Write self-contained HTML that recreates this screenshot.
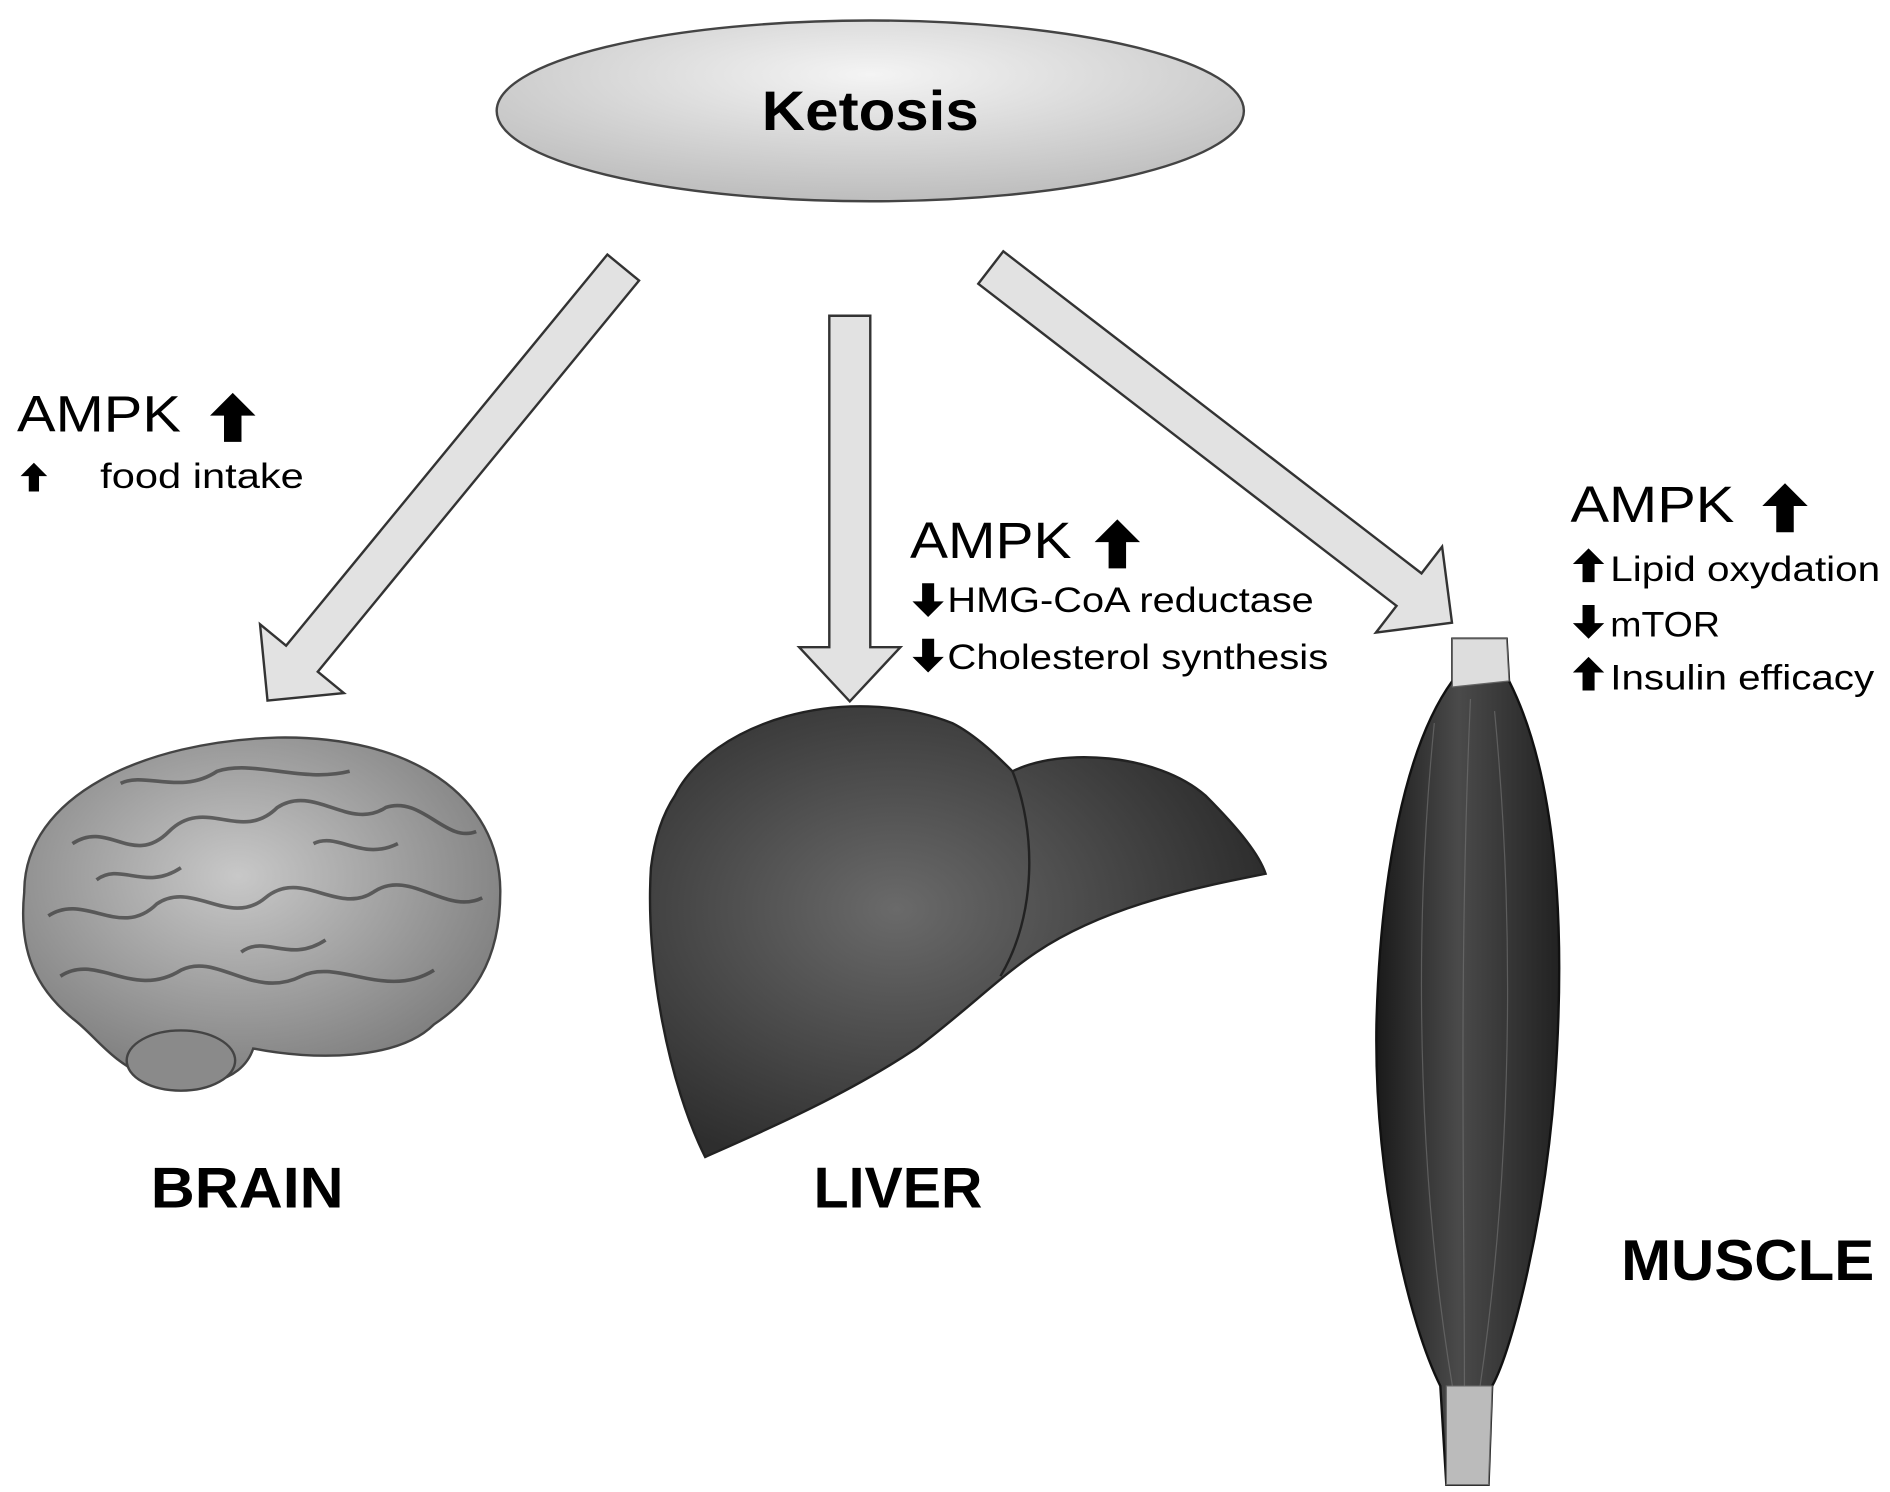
<!DOCTYPE html>
<html><head><meta charset="utf-8"><style>
html,body{margin:0;padding:0;background:#fff;}
svg{display:block;}
text{font-family:"Liberation Sans",sans-serif;fill:#000;}
</style></head><body>
<svg width="1890" height="1492" viewBox="0 0 1568 1238" xmlns="http://www.w3.org/2000/svg">
<defs>
<radialGradient id="eg" cx="50%" cy="30%" r="70%">
<stop offset="0" stop-color="#f4f4f4"/><stop offset="1" stop-color="#bdbdbd"/></radialGradient>
<radialGradient id="lg" cx="40%" cy="45%" r="60%">
<stop offset="0" stop-color="#6a6a6a"/><stop offset="1" stop-color="#2e2e2e"/></radialGradient>
<linearGradient id="mg" x1="0" x2="1">
<stop offset="0" stop-color="#1a1a1a"/><stop offset="0.45" stop-color="#4a4a4a"/><stop offset="1" stop-color="#222"/></linearGradient>
<radialGradient id="bg" cx="45%" cy="40%" r="65%">
<stop offset="0" stop-color="#c8c8c8"/><stop offset="1" stop-color="#7a7a7a"/></radialGradient>
<polygon id="ua" points="0,0 13,13 5,13 5,28 -5,28 -5,13 -13,13" fill="#000"/>
</defs>
<ellipse cx="722" cy="92" rx="310" ry="75" fill="url(#eg)" stroke="#444" stroke-width="2"/>
<text x="632" y="108" font-size="46" font-weight="bold" textLength="180" lengthAdjust="spacingAndGlyphs">Ketosis</text>

<g fill="#e2e2e2" stroke="#333" stroke-width="2">
<polygon transform="translate(517,222) rotate(39.4)" points="-17,0 17,0 17,420 45,420 0,465 -45,420 -17,420"/>
<polygon transform="translate(705,262)" points="-17,0 17,0 17,275 42,275 0,320 -42,275 -17,275"/>
<polygon transform="translate(822,222) rotate(-52.4)" points="-17,0 17,0 17,438 45,438 0,483 -45,438 -17,438"/>
</g>

<text x="14" y="358" font-size="42" textLength="136" lengthAdjust="spacingAndGlyphs">AMPK</text>
<use href="#ua" transform="translate(193,326) scale(1.45)"/>
<use href="#ua" transform="translate(28,384) scale(0.85)"/>
<text x="83" y="405" font-size="29" textLength="169" lengthAdjust="spacingAndGlyphs">food intake</text>

<text x="755" y="463" font-size="42" textLength="134" lengthAdjust="spacingAndGlyphs">AMPK</text>
<use href="#ua" transform="translate(927,431) scale(1.45)"/>
<use href="#ua" transform="translate(770,512) scale(1,-1)"/>
<text x="786" y="508" font-size="29" textLength="304" lengthAdjust="spacingAndGlyphs">HMG-CoA reductase</text>
<use href="#ua" transform="translate(770,558) scale(1,-1)"/>
<text x="786" y="555" font-size="29" textLength="316" lengthAdjust="spacingAndGlyphs">Cholesterol synthesis</text>

<text x="1303" y="433" font-size="42" textLength="136" lengthAdjust="spacingAndGlyphs">AMPK</text>
<use href="#ua" transform="translate(1481,401) scale(1.45)"/>
<use href="#ua" transform="translate(1318,455)"/>
<text x="1336" y="482" font-size="29" textLength="224" lengthAdjust="spacingAndGlyphs">Lipid oxydation</text>
<use href="#ua" transform="translate(1318,530) scale(1,-1)"/>
<text x="1336" y="528" font-size="29" textLength="91" lengthAdjust="spacingAndGlyphs">mTOR</text>
<use href="#ua" transform="translate(1318,545)"/>
<text x="1336" y="572" font-size="29" textLength="219" lengthAdjust="spacingAndGlyphs">Insulin efficacy</text>

<!-- brain -->
<path d="M20,740 C20,660 120,615 230,612 C340,610 415,660 415,740 C415,800 390,830 360,850 C330,880 260,880 210,870 C200,900 160,905 125,895 C90,880 80,860 60,845 C30,820 15,790 20,740 Z" fill="url(#bg)" stroke="#444" stroke-width="2"/>
<g fill="none" stroke="#3a3a3a" stroke-width="3" opacity="0.7">
<path d="M60,700 C90,680 110,720 140,690 C170,660 200,700 230,670 C260,650 290,690 320,670 C350,660 370,700 395,690"/>
<path d="M40,760 C70,740 100,780 130,750 C160,730 190,770 220,745 C250,720 280,760 310,740 C340,720 370,760 400,745"/>
<path d="M50,810 C80,790 110,830 150,805 C180,790 210,830 250,810 C280,795 320,830 360,805"/>
<path d="M100,650 C120,640 150,660 180,640 C210,630 250,650 290,640"/>
<path d="M80,730 C100,715 120,740 150,720 M260,700 C280,690 300,715 330,700 M200,790 C220,775 240,800 270,780"/>
</g>
<ellipse cx="150" cy="880" rx="45" ry="25" fill="#8a8a8a" stroke="#444" stroke-width="2"/>

<!-- liver -->
<path d="M560,660 C590,600 700,565 790,600 C810,610 830,630 840,640 C880,620 960,625 1000,660 C1030,690 1045,710 1050,725 C1000,735 920,750 860,790 C830,810 800,840 760,870 C700,910 630,940 585,960 C555,900 535,800 540,720 C543,695 550,675 560,660 Z" fill="url(#lg)" stroke="#222" stroke-width="2"/>
<path d="M840,640 C860,690 860,760 830,810" fill="none" stroke="#222" stroke-width="2"/>

<!-- muscle -->
<path d="M1205,530 L1250,530 L1252,565 C1290,640 1300,760 1290,900 C1282,1010 1255,1120 1238,1150 L1235,1232 L1200,1232 L1195,1150 C1170,1100 1140,980 1142,850 C1145,730 1165,620 1205,565 Z" fill="url(#mg)" stroke="#111" stroke-width="2"/>
<path d="M1205,530 L1250,530 L1252,565 L1205,570 Z" fill="#ddd" stroke="#666"/>
<path d="M1200,1150 L1238,1150 L1235,1232 L1200,1232 Z" fill="#bbb" stroke="#666"/>
<g stroke="#777" stroke-width="1" fill="none" opacity="0.6">
<path d="M1190,600 C1170,800 1180,1000 1205,1150"/><path d="M1220,580 C1210,800 1215,1000 1215,1150"/><path d="M1240,590 C1260,800 1250,1000 1228,1150"/>
</g>

<text x="125" y="1002" font-size="48" font-weight="bold" textLength="160" lengthAdjust="spacingAndGlyphs">BRAIN</text>
<text x="675" y="1002" font-size="48" font-weight="bold" textLength="140" lengthAdjust="spacingAndGlyphs">LIVER</text>
<text x="1345" y="1062" font-size="48" font-weight="bold" textLength="210" lengthAdjust="spacingAndGlyphs">MUSCLE</text>
</svg>
</body></html>
